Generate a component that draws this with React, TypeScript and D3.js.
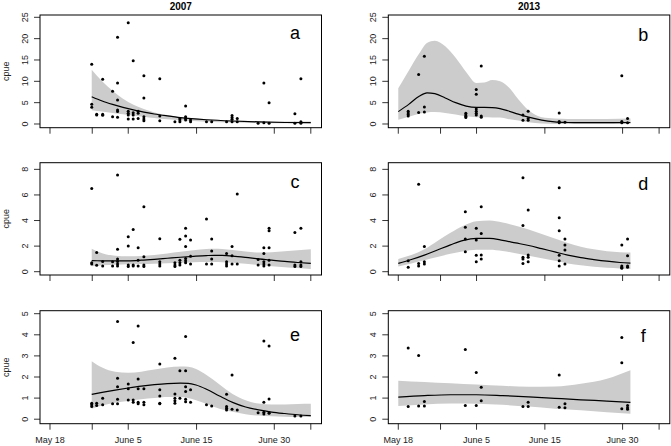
import React from 'react'
import * as d3 from 'd3'

type Pt = [number, number]

const years = ['2007', '2013']
const xTicks = [0, 16.2, 30, 56.2, 86, 100]
const xTickLabels = ['May 18', '', 'June 5', 'June 15', 'June 30', '']
const yTicksTop = [0, 5, 10, 15, 20, 25]
const yTicksMid = [0, 2, 4, 6, 8]
const yTicksBot = [0, 1, 2, 3, 4, 5]

// panel a (2007, row 1)
const ptsA: Pt[] = [
  [16, 14.0], [16, 4.6], [16, 3.9], [17.9, 2.27], [17.9, 2.1], [20.2, 10.5], [20.2, 2.27], [20.2, 2.03],
  [24, 7.7], [24, 1.7], [25.9, 20.3], [25.9, 9.6], [25.9, 5.6], [25.9, 3.3], [25.9, 2.9], [25.9, 1.56],
  [30, 23.7], [30, 3.0], [30, 2.5], [30, 2.1], [30, 1.2], [31.9, 14.8], [31.9, 2.65], [31.9, 2.1], [31.9, 1.2],
  [33.8, 3.0], [33.8, 2.5], [33.8, 1.3], [36, 11.3], [36, 6.1], [36, 1.7], [36, 1.2], [36, 0.78],
  [42.1, 10.6], [42.1, 1.87], [42.1, 0.78], [47.9, 0.55], [49.8, 1.3], [49.8, 0.94], [49.8, 0.55],
  [52, 4.2], [52, 1.7], [52, 1.3], [52, 0.94], [53.9, 0.94], [53.9, 0.55], [60, 0.55], [62, 0.55],
  [67.7, 0.55], [69.8, 2.0], [69.8, 1.5], [69.8, 1.1], [69.8, 0.55], [71.8, 1.3], [71.8, 0.55],
  [79.8, 0.16], [82, 9.6], [82, 0.3], [84, 5.0], [84, 0.16], [93.9, 2.4], [93.9, 0.16],
  [96.2, 10.6], [96.2, 0.55], [96.2, 0.16],
]
const fitXA = [16, 20, 24, 28, 32, 36, 40, 45, 50, 60, 70, 80, 90, 100]
const fitA = [6.4, 5.4, 4.6, 3.9, 3.3, 2.8, 2.35, 1.9, 1.5, 1.0, 0.7, 0.5, 0.35, 0.3]
const hiA = [12.7, 10.0, 7.8, 5.9, 4.5, 3.5, 2.7, 2.1, 1.6, 1.1, 0.8, 0.65, 0.6, 0.6]
const loA = [3.2, 2.9, 2.6, 2.3, 2.0, 1.7, 1.4, 1.1, 0.9, 0.55, 0.35, 0.2, 0.15, 0.1]

// panel b (2013, row 1)
const ptsB: Pt[] = [
  [3.8, 3.0], [3.8, 2.6], [3.8, 2.2], [3.8, 1.9], [7.8, 11.6], [7.8, 2.7], [10, 15.9], [10, 4.0], [10, 2.8],
  [25.9, 2.5], [25.9, 2.1], [25.9, 1.8], [25.9, 1.5], [29.9, 8.1], [29.9, 7.0], [29.9, 3.5], [29.9, 3.0],
  [29.9, 2.5], [29.9, 2.1], [31.8, 13.6], [31.8, 1.9], [31.8, 1.6], [47.8, 2.1], [47.8, 0.9],
  [49.8, 3.0], [49.8, 1.3], [49.8, 0.9], [61.7, 2.6], [61.7, 0.6], [61.7, 0.3], [63.9, 0.4],
  [85.7, 11.3], [85.7, 0.6], [85.7, 0.3], [87.9, 1.3], [87.9, 0.3],
]
const fitXB = [0, 4, 8, 11, 14, 18, 22, 26, 30, 33, 36, 39, 42, 46, 50, 55, 60, 65, 70, 80, 89]
const fitB = [2.9, 4.6, 6.5, 7.3, 7.1, 6.1, 5.0, 4.2, 3.9, 3.9, 3.85, 3.6, 3.1, 2.3, 1.6, 0.9, 0.5, 0.35, 0.3, 0.3, 0.35]
const hiB = [8.4, 12.5, 16.5, 19.0, 19.5, 18.2, 15.5, 12.2, 9.6, 9.7, 10.3, 10.0, 8.8, 5.8, 3.2, 1.6, 1.3, 1.2, 1.2, 1.2, 1.3]
const loB = [1.0, 1.7, 2.4, 2.7, 2.8, 2.6, 2.2, 1.8, 1.6, 1.6, 1.55, 1.5, 1.2, 0.8, 0.4, 0.1, 0.02, 0, 0, 0, 0]

// panel c (2007, row 2)
const ptsC: Pt[] = [
  [16, 6.5], [16, 0.7], [16, 0.6], [17.9, 1.5], [17.9, 0.5], [20.2, 0.8], [20.2, 0.45], [24, 0.78], [24, 0.45],
  [25.9, 7.55], [25.9, 1.75], [25.9, 1.0], [25.9, 0.8], [25.9, 0.6], [25.9, 0.45],
  [30, 2.73], [30, 2.0], [30, 0.52], [30, 0.4], [31.9, 3.3], [31.9, 0.52], [31.9, 0.45],
  [33.8, 1.88], [33.8, 0.9], [33.8, 0.45], [36, 5.08], [36, 1.17], [36, 0.52], [36, 0.4],
  [42.1, 2.58], [42.1, 0.78], [42.1, 0.6], [42.1, 0.45], [47.9, 0.7], [47.9, 0.52], [47.9, 0.4],
  [49.8, 2.53], [49.8, 0.9], [49.8, 0.7], [49.8, 0.52],
  [52, 3.39], [52, 2.79], [52, 1.96], [52, 1.04], [52, 0.86], [52, 0.7], [53.9, 2.48], [53.9, 1.2], [53.9, 0.6],
  [60, 4.11], [60, 0.6], [62, 2.55], [62, 1.61], [62, 1.0], [62, 0.6],
  [67.7, 1.43], [67.7, 0.78], [67.7, 0.6], [67.7, 0.45], [69.8, 1.96], [69.8, 1.25], [69.8, 0.6],
  [71.8, 6.07], [71.8, 0.6], [79.8, 0.96], [79.8, 0.52],
  [82, 1.88], [82, 1.43], [82, 0.78], [82, 0.6], [82, 0.45], [84, 3.39], [84, 3.2], [84, 1.88], [84, 0.9], [84, 0.52],
  [93.9, 3.07], [93.9, 0.52], [93.9, 0.4], [96.2, 3.39], [96.2, 0.78], [96.2, 0.52], [96.2, 0.4],
]
const fitXC = [16, 20, 25, 30, 35, 40, 45, 50, 55, 60, 63, 66, 70, 75, 80, 85, 90, 95, 100]
const fitC = [0.86, 0.85, 0.84, 0.85, 0.9, 0.97, 1.05, 1.13, 1.2, 1.26, 1.28, 1.27, 1.22, 1.12, 1.0, 0.9, 0.8, 0.72, 0.65]
const hiC = [1.8, 1.45, 1.25, 1.2, 1.22, 1.3, 1.42, 1.55, 1.68, 1.78, 1.8, 1.78, 1.7, 1.58, 1.5, 1.52, 1.6, 1.68, 1.75]
const loC = [0.42, 0.5, 0.55, 0.58, 0.6, 0.63, 0.67, 0.7, 0.73, 0.75, 0.75, 0.74, 0.7, 0.62, 0.52, 0.43, 0.35, 0.28, 0.22]

// panel d (2013, row 2)
const ptsD: Pt[] = [
  [3.8, 0.86], [3.8, 0.34], [7.8, 6.83], [7.8, 0.65], [7.8, 0.45], [10, 1.96], [10, 0.78], [10, 0.6],
  [25.7, 4.69], [25.7, 3.47], [25.7, 2.55], [25.7, 1.56], [29.9, 3.39], [29.9, 2.48], [29.9, 1.28], [29.9, 0.78],
  [31.8, 5.08], [31.8, 2.99], [31.8, 1.3], [31.8, 0.99],
  [47.8, 7.35], [47.8, 3.62], [47.8, 1.12], [47.8, 0.99], [47.8, 0.65], [49.8, 4.82], [49.8, 1.3], [49.8, 1.12], [49.8, 0.78],
  [61.7, 6.57], [61.7, 4.22], [61.7, 3.2], [61.7, 1.28], [61.7, 0.86], [61.7, 0.45],
  [63.9, 2.55], [63.9, 2.09], [63.9, 1.69], [63.9, 0.6],
  [85.7, 2.09], [85.7, 0.45], [85.7, 0.34], [85.7, 0.26], [87.9, 2.55], [87.9, 1.25], [87.9, 0.45], [87.9, 0.34],
]
const fitXD = [0, 5, 10, 15, 20, 25, 30, 35, 40, 45, 50, 55, 60, 65, 70, 75, 80, 85, 89]
const fitD = [0.65, 0.95, 1.3, 1.7, 2.1, 2.45, 2.6, 2.6, 2.45, 2.25, 2.05, 1.8, 1.55, 1.3, 1.1, 0.95, 0.82, 0.72, 0.67]
const hiD = [1.0, 1.3, 1.75, 2.4, 3.05, 3.6, 3.95, 4.0, 3.85, 3.6, 3.3, 2.95, 2.6, 2.25, 1.95, 1.75, 1.6, 1.52, 1.5]
const loD = [0.4, 0.65, 0.9, 1.15, 1.4, 1.6, 1.72, 1.72, 1.62, 1.45, 1.25, 1.05, 0.85, 0.65, 0.5, 0.38, 0.3, 0.25, 0.22]

// panel e (2007, row 3)
const ptsE: Pt[] = [
  [16, 0.76], [16, 0.68], [16, 0.6], [17.9, 0.76], [17.9, 0.65], [20.2, 0.99], [20.2, 0.68], [24, 0.73],
  [25.9, 4.63], [25.9, 1.94], [25.9, 1.54], [25.9, 0.95], [25.9, 0.73], [30, 1.67], [30, 1.44], [30, 0.91],
  [31.9, 3.63], [31.9, 0.91], [31.9, 0.8], [33.8, 4.42], [33.8, 1.9], [33.8, 1.44], [33.8, 0.8], [33.8, 0.73],
  [36, 1.44], [36, 0.8], [36, 0.68], [42.1, 2.62], [42.1, 1.39], [42.1, 1.1], [42.1, 0.76], [42.1, 0.73],
  [47.9, 2.89], [47.9, 1.2], [47.9, 0.99], [47.9, 0.88], [47.9, 0.76], [49.8, 2.3], [49.8, 0.99],
  [52, 3.92], [52, 2.3], [52, 1.54], [52, 1.31], [52, 0.95], [52, 0.83], [53.9, 1.39], [53.9, 0.8],
  [60, 0.68], [62, 0.63], [67.7, 1.18], [67.7, 0.6], [67.7, 0.52], [67.7, 0.44], [69.8, 2.1], [69.8, 0.47],
  [71.8, 0.44], [79.8, 0.31], [82, 3.71], [82, 0.8], [82, 0.33], [82, 0.25],
  [84, 3.47], [84, 0.96], [84, 0.31], [84, 0.28], [93.9, 0.15], [96.2, 0.15],
]
const fitXE = [16, 20, 25, 30, 35, 40, 45, 50, 53, 56, 60, 65, 70, 75, 80, 85, 90, 95, 100]
const fitE = [1.18, 1.27, 1.38, 1.48, 1.57, 1.64, 1.69, 1.71, 1.7, 1.62, 1.42, 1.1, 0.8, 0.58, 0.44, 0.34, 0.27, 0.21, 0.17]
const hiE = [2.75, 2.45, 2.25, 2.2, 2.25, 2.35, 2.45, 2.5, 2.48, 2.38, 2.1, 1.65, 1.2, 0.9, 0.74, 0.7, 0.7, 0.72, 0.73]
const loE = [0.5, 0.65, 0.78, 0.86, 0.94, 1.0, 1.05, 1.05, 1.0, 0.9, 0.72, 0.5, 0.35, 0.24, 0.17, 0.14, 0.12, 0.1, 0.1]

// panel f (2013, row 3)
const ptsF: Pt[] = [
  [3.8, 3.37], [3.8, 0.6], [7.8, 3.02], [7.8, 0.63], [10, 0.84], [10, 0.63], [25.7, 3.3], [25.7, 0.65],
  [29.9, 2.21], [29.9, 0.65], [31.8, 1.52], [31.8, 0.87], [47.8, 0.6], [49.8, 0.8], [49.8, 0.6],
  [61.7, 2.09], [61.7, 0.57], [63.9, 0.73], [63.9, 0.54], [85.7, 3.87], [85.7, 2.67], [85.7, 0.5],
  [87.9, 0.65], [87.9, 0.54], [87.9, 0.47],
]
const fitXF = [0, 10, 20, 30, 40, 50, 60, 70, 80, 89]
const fitF = [1.05, 1.12, 1.16, 1.16, 1.12, 1.06, 0.99, 0.92, 0.86, 0.8]
const hiF = [1.82, 1.76, 1.7, 1.64, 1.58, 1.54, 1.55, 1.68, 1.92, 2.32]
const loF = [0.62, 0.7, 0.74, 0.73, 0.68, 0.6, 0.5, 0.42, 0.33, 0.26]

// layout
const W = 671
const H = 446
const colLeft = [40, 388.3]
const boxW = 281.5
const rowTop = [15, 162.7, 310.7]
const rowBottom = [127.7, 275, 423.7]
const rowDomain: [number, number][] = [[-0.867, 25.54], [-0.258, 8.52], [-0.213, 5.142]]
const xDomain: [number, number] = [-3.83, 104.1]
const font = '"Liberation Sans", Arial, Helvetica, sans-serif'

const panels = [
  { key: 'a', col: 0, row: 0, pts: ptsA, fx: fitXA, fit: fitA, lo: loA, hi: hiA, yTicks: yTicksTop, ly: 24.3 },
  { key: 'b', col: 1, row: 0, pts: ptsB, fx: fitXB, fit: fitB, lo: loB, hi: hiB, yTicks: yTicksTop, ly: 25.7 },
  { key: 'c', col: 0, row: 1, pts: ptsC, fx: fitXC, fit: fitC, lo: loC, hi: hiC, yTicks: yTicksMid, ly: 25.6 },
  { key: 'd', col: 1, row: 1, pts: ptsD, fx: fitXD, fit: fitD, lo: loD, hi: hiD, yTicks: yTicksMid, ly: 27.3 },
  { key: 'e', col: 0, row: 2, pts: ptsE, fx: fitXE, fit: fitE, lo: loE, hi: hiE, yTicks: yTicksBot, ly: 30 },
  { key: 'f', col: 1, row: 2, pts: ptsF, fx: fitXF, fit: fitF, lo: loF, hi: hiF, yTicks: yTicksBot, ly: 31.3 },
]

const Panel: React.FC<{ p: typeof panels[number] }> = ({ p }) => {
  const left = colLeft[p.col]
  const top = rowTop[p.row]
  const bottom = rowBottom[p.row]
  const x = d3.scaleLinear().domain(xDomain).range([left, left + boxW])
  const y = d3.scaleLinear().domain(rowDomain[p.row]).range([bottom, top])

  const band = p.fx.map((v, i) => ({ x: v, lo: p.lo[i], hi: p.hi[i], fit: p.fit[i] }))
  const area = d3.area<typeof band[number]>()
    .x(d => x(d.x))
    .y0(d => y(d.lo))
    .y1(d => y(d.hi))
    .curve(d3.curveMonotoneX)
  const line = d3.line<typeof band[number]>()
    .x(d => x(d.x))
    .y(d => y(d.fit))
    .curve(d3.curveMonotoneX)

  const showXLabels = p.row === 2

  return (
    <g>
      <path d={area(band) || ''} fill="#cccccc" />
      <path d={line(band) || ''} fill="none" stroke="#000" strokeWidth={1.2} />
      {p.pts.map((d, i) => (
        <circle key={i} cx={x(d[0])} cy={y(d[1])} r={1.5} fill="#000" />
      ))}
      <rect x={left} y={top} width={boxW} height={bottom - top} fill="none" stroke="#000" strokeWidth={1} />
      {/* x axis */}
      {xTicks.map((t, i) => (
        <g key={'x' + i}>
          <line x1={x(t)} x2={x(t)} y1={bottom} y2={bottom + 6} stroke="#000" strokeWidth={0.8} />
          {showXLabels && xTickLabels[i] && (
            <text x={x(t)} y={bottom + 19} textAnchor="middle" fontSize={9} fill="#222">{xTickLabels[i]}</text>
          )}
        </g>
      ))}
      {/* y axis */}
      {p.yTicks.map(t => (
        <g key={'y' + t}>
          <line x1={left - 6} x2={left} y1={y(t)} y2={y(t)} stroke="#000" strokeWidth={0.8} />
          <text
            transform={`translate(${left - 12},${y(t)}) rotate(-90)`}
            textAnchor="middle"
            fontSize={9}
            fill="#222"
          >{t}</text>
        </g>
      ))}
      {p.col === 0 && (
        <text
          transform={`translate(8.5,${(top + bottom) / 2}) rotate(-90)`}
          textAnchor="middle"
          fontSize={9}
          fill="#222"
        >cpue</text>
      )}
      <text x={left + boxW - 26.5} y={top + p.ly} textAnchor="middle" fontSize={18} fill="#000">{p.key}</text>
    </g>
  )
}

export default function App() {
  return (
    <svg
      width={W}
      height={H}
      style={{ position: 'absolute', left: 0, top: 0, background: '#fff', fontFamily: font }}
    >
      <rect width={W} height={H} fill="#fff" />
      {years.map((yr, i) => (
        <text key={yr} x={colLeft[i] + boxW / 2} y={9.5} textAnchor="middle" fontSize={10} fontWeight="bold">{yr}</text>
      ))}
      {panels.map(p => <Panel key={p.key} p={p} />)}
    </svg>
  )
}
